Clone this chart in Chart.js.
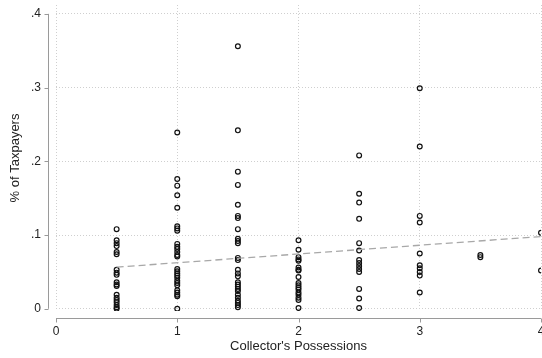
<!DOCTYPE html>
<html>
<head>
<meta charset="utf-8">
<script src="https://cdn.jsdelivr.net/npm/chart.js@4/dist/chart.umd.min.js"></script>
<style>
  html, body { margin: 0; padding: 0; background: #fff; }
  canvas { display: block; }
</style>
</head>
<body>
<canvas id="c" width="542" height="358"></canvas>
<script>
// Collector's possessions (x) and share of taxpayers (y), one array per possession level
const possessionLevels = [0.5, 1, 1.5, 2, 2.5, 3, 3.5, 4];
const sharesAt0_5 = [0.108, 0.093, 0.089, 0.085, 0.077, 0.074, 0.053, 0.049, 0.046, 0.036, 0.033, 0.031, 0.019, 0.015, 0.012, 0.009, 0.005, 0.002, 0.000];
const sharesAt1   = [0.239, 0.176, 0.167, 0.154, 0.137, 0.112, 0.109, 0.106, 0.088, 0.084, 0.081, 0.077, 0.073, 0.071, 0.054, 0.051, 0.048, 0.045, 0.042, 0.038, 0.035, 0.032, 0.025, 0.022, 0.019, 0.017, 0.000];
const sharesAt1_5 = [0.356, 0.242, 0.186, 0.168, 0.141, 0.126, 0.123, 0.108, 0.095, 0.092, 0.089, 0.069, 0.066, 0.053, 0.048, 0.044, 0.036, 0.033, 0.030, 0.027, 0.024, 0.019, 0.015, 0.011, 0.008, 0.005, 0.002];
const sharesAt2   = [0.093, 0.080, 0.070, 0.067, 0.065, 0.056, 0.053, 0.052, 0.043, 0.035, 0.032, 0.029, 0.026, 0.022, 0.019, 0.015, 0.012, 0.001];
const sharesAt2_5 = [0.208, 0.156, 0.144, 0.122, 0.089, 0.079, 0.066, 0.062, 0.058, 0.054, 0.050, 0.027, 0.014, 0.001];
const sharesAt3   = [0.299, 0.220, 0.126, 0.117, 0.075, 0.059, 0.055, 0.050, 0.045, 0.022];
const sharesAt3_5 = [0.073, 0.070];
const sharesAt4   = [0.103, 0.052];

// Linear fit, evaluated at the ends of the observed range
const fitX = [0.5, 4];
const fitY = [0.0565, 0.098];

// Axis ticks
const xTickValues = [0, 1, 2, 3, 4];
const xTickLabels = ['0', '1', '2', '3', '4'];
const yTickValues = [0, 0.1, 0.2, 0.3, 0.4];
const yTickLabels = ['0', '.1', '.2', '.3', '.4'];

const sharesByLevel = [sharesAt0_5, sharesAt1, sharesAt1_5, sharesAt2, sharesAt2_5, sharesAt3, sharesAt3_5, sharesAt4];
const scatterPoints = [];
possessionLevels.forEach((lvl, i) => {
  sharesByLevel[i].forEach(v => scatterPoints.push({ x: lvl, y: v }));
});
const fitPoints = fitX.map((x, i) => ({ x, y: fitY[i] }));

const FONT = 'Liberation Sans, Arial, Helvetica, sans-serif';
const AXIS_COLOR = '#9a9a9a';
const NO_PADDING = () => ({ left: 0, top: 0, right: 0, bottom: 0 });

// Stata-style axis lines, set off from the plot region, with outward tick marks
const detachedAxes = {
  id: 'detachedAxes',
  afterDraw(chart) {
    const { ctx, chartArea, scales: { x, y } } = chart;
    const ax = Math.round(chartArea.left - 8) + 0.5;
    const ay = Math.round(chartArea.bottom + 7) + 0.5;
    ctx.save();
    ctx.strokeStyle = AXIS_COLOR;
    ctx.lineWidth = 1;
    ctx.beginPath();
    // y axis
    const yTop = y.getPixelForValue(yTickValues[yTickValues.length - 1]);
    const yBot = y.getPixelForValue(yTickValues[0]);
    ctx.moveTo(ax, yTop); ctx.lineTo(ax, yBot);
    yTickValues.forEach(v => {
      const py = Math.round(y.getPixelForValue(v)) + 0.5;
      ctx.moveTo(ax - 4, py); ctx.lineTo(ax, py);
    });
    // x axis
    const xL = x.getPixelForValue(xTickValues[0]);
    const xR = x.getPixelForValue(xTickValues[xTickValues.length - 1]);
    ctx.moveTo(xL, ay); ctx.lineTo(xR, ay);
    xTickValues.forEach(v => {
      const px = Math.round(x.getPixelForValue(v)) + 0.5;
      ctx.moveTo(px, ay); ctx.lineTo(px, ay + 4);
    });
    ctx.stroke();
    ctx.restore();
  }
};

new Chart(document.getElementById('c'), {
  type: 'scatter',
  data: {
    datasets: [
      {
        type: 'line',
        data: fitPoints,
        borderColor: '#a8a8a8',
        borderWidth: 1.3,
        borderDash: [7, 4],
        pointRadius: 0,
        pointHoverRadius: 0,
        fill: false,
        order: 0
      },
      {
        data: scatterPoints,
        pointStyle: 'circle',
        pointRadius: 2.4,
        pointBorderWidth: 1.2,
        pointBorderColor: '#111',
        pointBackgroundColor: 'rgba(0,0,0,0)',
        order: 1
      }
    ]
  },
  options: {
    responsive: false,
    animation: false,
    events: [],
    layout: { autoPadding: false, padding: { top: 5, right: 1, left: 0, bottom: 0 } },
    plugins: { legend: { display: false }, tooltip: { enabled: false } },
    scales: {
      x: {
        type: 'linear',
        min: 0,
        max: 4,
        afterFit(scale) {
          scale.height = 47;
          scale.paddingLeft = 0;
          scale.paddingRight = 0;
          scale.getPadding = NO_PADDING;
        },
        afterBuildTicks(scale) { scale.ticks = xTickValues.map(v => ({ value: v })); },
        grid: { color: '#cfcfcf', lineWidth: 1, drawTicks: false },
        border: { display: false, dash: [1, 2] },
        ticks: {
          padding: 13,
          color: '#222',
          font: { family: FONT, size: 12 },
          maxRotation: 0,
          callback: (v, i) => xTickLabels[i]
        },
        title: {
          display: true,
          text: "Collector's Possessions",
          color: '#222',
          font: { family: FONT, size: 13 },
          padding: { top: 0, bottom: 4 }
        }
      },
      y: {
        type: 'linear',
        min: -0.003,
        max: 0.412,
        afterFit(scale) {
          scale.width = 56;
          scale.paddingTop = 0;
          scale.paddingBottom = 0;
          scale.getPadding = NO_PADDING;
        },
        afterBuildTicks(scale) { scale.ticks = yTickValues.map(v => ({ value: v })); },
        grid: { color: '#cfcfcf', lineWidth: 1, drawTicks: false },
        border: { display: false, dash: [1, 2] },
        ticks: {
          padding: 15,
          color: '#222',
          font: { family: FONT, size: 12 },
          callback: (v, i) => yTickLabels[i]
        },
        title: {
          display: true,
          text: '% of Taxpayers',
          color: '#222',
          font: { family: FONT, size: 13 },
          padding: { top: 8, bottom: 0 }
        }
      }
    }
  },
  plugins: [detachedAxes]
});
</script>
</body>
</html>
